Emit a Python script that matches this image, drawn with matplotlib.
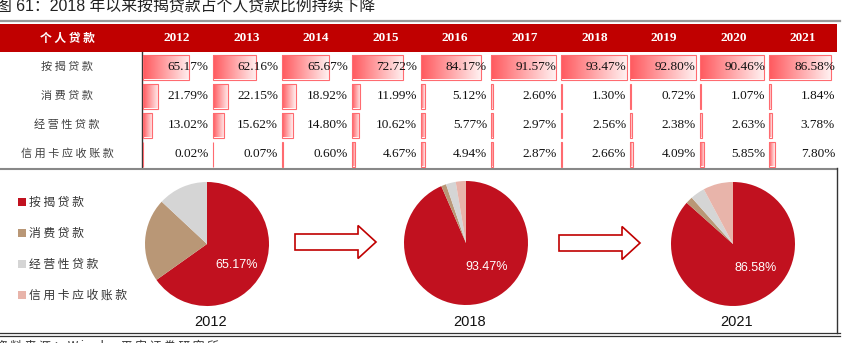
import matplotlib.pyplot as plt
import numpy as np
from matplotlib.patches import Rectangle, FancyArrow
from matplotlib.colors import LinearSegmentedColormap

plt.rcParams['font.family'] = ['Liberation Serif', 'Noto Sans CJK SC']

# 数据
years = ["2012", "2013", "2014", "2015", "2016", "2017", "2018", "2019", "2020", "2021"]
loan_types = ["按揭贷款", "消费贷款", "经营性贷款", "信用卡应收账款"]
mortgage = [65.17, 62.16, 65.67, 72.72, 84.17, 91.57, 93.47, 92.80, 90.46, 86.58]
consumer = [21.79, 22.15, 18.92, 11.99, 5.12, 2.60, 1.30, 0.72, 1.07, 1.84]
business = [13.02, 15.62, 14.80, 10.62, 5.77, 2.97, 2.56, 2.38, 2.63, 3.78]
credit_card = [0.02, 0.07, 0.60, 4.67, 4.94, 2.87, 2.66, 4.09, 5.85, 7.80]
pie_years = ["2012", "2018", "2021"]
pie_colors = ["#C1111F", "#B99776", "#D5D5D5", "#E8B4AA"]

title = "图 61：2018 年以来按揭贷款占个人贷款比例持续下降"
source = "资料来源：Wind，平安证券研究所"

rows = [mortgage, consumer, business, credit_card]

def spaced(s):
    return " ".join(s)

fig = plt.figure(figsize=(8.67, 3.43), dpi=100)
ax = fig.add_axes([0, 0, 1, 1])

# 标题
ax.text(-4, 7, title, fontsize=11.4, va="center", ha="left", color="#222222",
        family=['Liberation Sans', 'Noto Sans CJK SC'])

# 表头
ax.plot([0, 840], [21, 21], color="#999999", lw=1.6)
ax.add_patch(Rectangle((0, 24), 837, 28, color="#C00000", lw=0))
ax.text(67, 38, spaced("个人贷款"), color="white", fontsize=8.5, fontweight="bold",
        ha="center", va="center", family=['Noto Sans CJK SC'])

col_left = 142
col_w = 69.6
px_per_pct = 0.706
row_h = 29
bar_h = 25
cmap = LinearSegmentedColormap.from_list("bar", ["#FF5A5F", "#FFF0F0"])
grad = np.linspace(0, 1, 64).reshape(1, -1)

for j, y in enumerate(years):
    ax.text(col_left + col_w * (j + 0.5), 38, y, color="white", fontsize=9.5,
            fontweight="bold", ha="center", va="center")

for i, (name, vals) in enumerate(zip(loan_types, rows)):
    yc = 67 + row_h * i
    ax.text(67, yc, spaced(name), fontsize=8, color="#404040", ha="center", va="center",
            family=['Noto Sans CJK SC'])
    lefts = [col_left + 1 + col_w * j for j in range(len(vals))]
    bars = ax.barh(yc, [v * px_per_pct for v in vals], left=lefts, height=bar_h,
                   facecolor="none", edgecolor="#FF6B70", lw=0.8, zorder=3)
    for b, v in zip(bars, vals):
        x0, w = b.get_x(), b.get_width()
        if w > 1:
            im = ax.imshow(grad, cmap=cmap, aspect="auto", zorder=2,
                           extent=[x0, x0 + w, yc + bar_h / 2, yc - bar_h / 2])
            im.set_clip_path(b)
    for j, v in enumerate(vals):
        ax.text(col_left + col_w * (j + 1) - 3, yc, f"{v:.2f}%", fontsize=9.5,
                ha="right", va="center", color="#111111", zorder=4)

ax.plot([142, 142], [52, 168], color="#333333", lw=1)
ax.plot([0, 837], [168.5, 168.5], color="#888888", lw=1.5)
ax.plot([837, 837], [168, 333], color="#333333", lw=1)
ax.plot([0, 840], [333, 333], color="#333333", lw=0.9)
ax.plot([0, 840], [336, 336], color="#333333", lw=0.9)
ax.text(-4, 339.5, spaced(source), fontsize=8.5, ha="left", va="top", color="#333333",
        family=['Noto Sans CJK SC'])

# 图例
for k, (name, c) in enumerate(zip(loan_types, pie_colors)):
    yk = 202 + 31 * k
    ax.scatter([21.5], [yk], marker="s", s=30, color=c, lw=0)
    ax.text(29, yk, spaced(name), fontsize=8.5, ha="left", va="center", color="#333333",
            family=['Noto Sans CJK SC'])

# 箭头
for xa, ya in [(295, 242), (559, 243)]:
    ax.add_patch(FancyArrow(xa, ya, 81, 0, width=16, head_width=33, head_length=18,
                            length_includes_head=True, fc="white", ec="#C00000", lw=1.2))

ax.set_xlim(0, 867)
ax.set_ylim(343, 0)
ax.axis("off")

# 饼图
pie_centers = [(207, 244), (466, 243), (733, 244)]
label_offsets = [(0.48, -0.34), (0.34, -0.39), (0.37, -0.39)]
radius_px = 62
for (cx, cy), yr, off in zip(pie_centers, pie_years, label_offsets):
    j = years.index(yr)
    vals = [mortgage[j], consumer[j], business[j], credit_card[j]]
    pax = fig.add_axes([(cx - radius_px) / 867, 1 - (cy + radius_px) / 343,
                        2 * radius_px / 867, 2 * radius_px / 343])
    pax.pie(vals, colors=pie_colors, startangle=90, counterclock=False, radius=1,
            wedgeprops=dict(lw=0))
    pax.set_xlim(-1, 1)
    pax.set_ylim(-1, 1)
    pax.text(off[0], off[1], f"{vals[0]:.2f}%", color="white", fontsize=9,
             ha="center", va="center", family=['Liberation Sans'])
    ax.text(cx + 4, 322, yr, fontsize=10.5, ha="center", va="center",
            family=['Liberation Sans'], color="#111111")

fig.savefig("out.png", dpi=100)
